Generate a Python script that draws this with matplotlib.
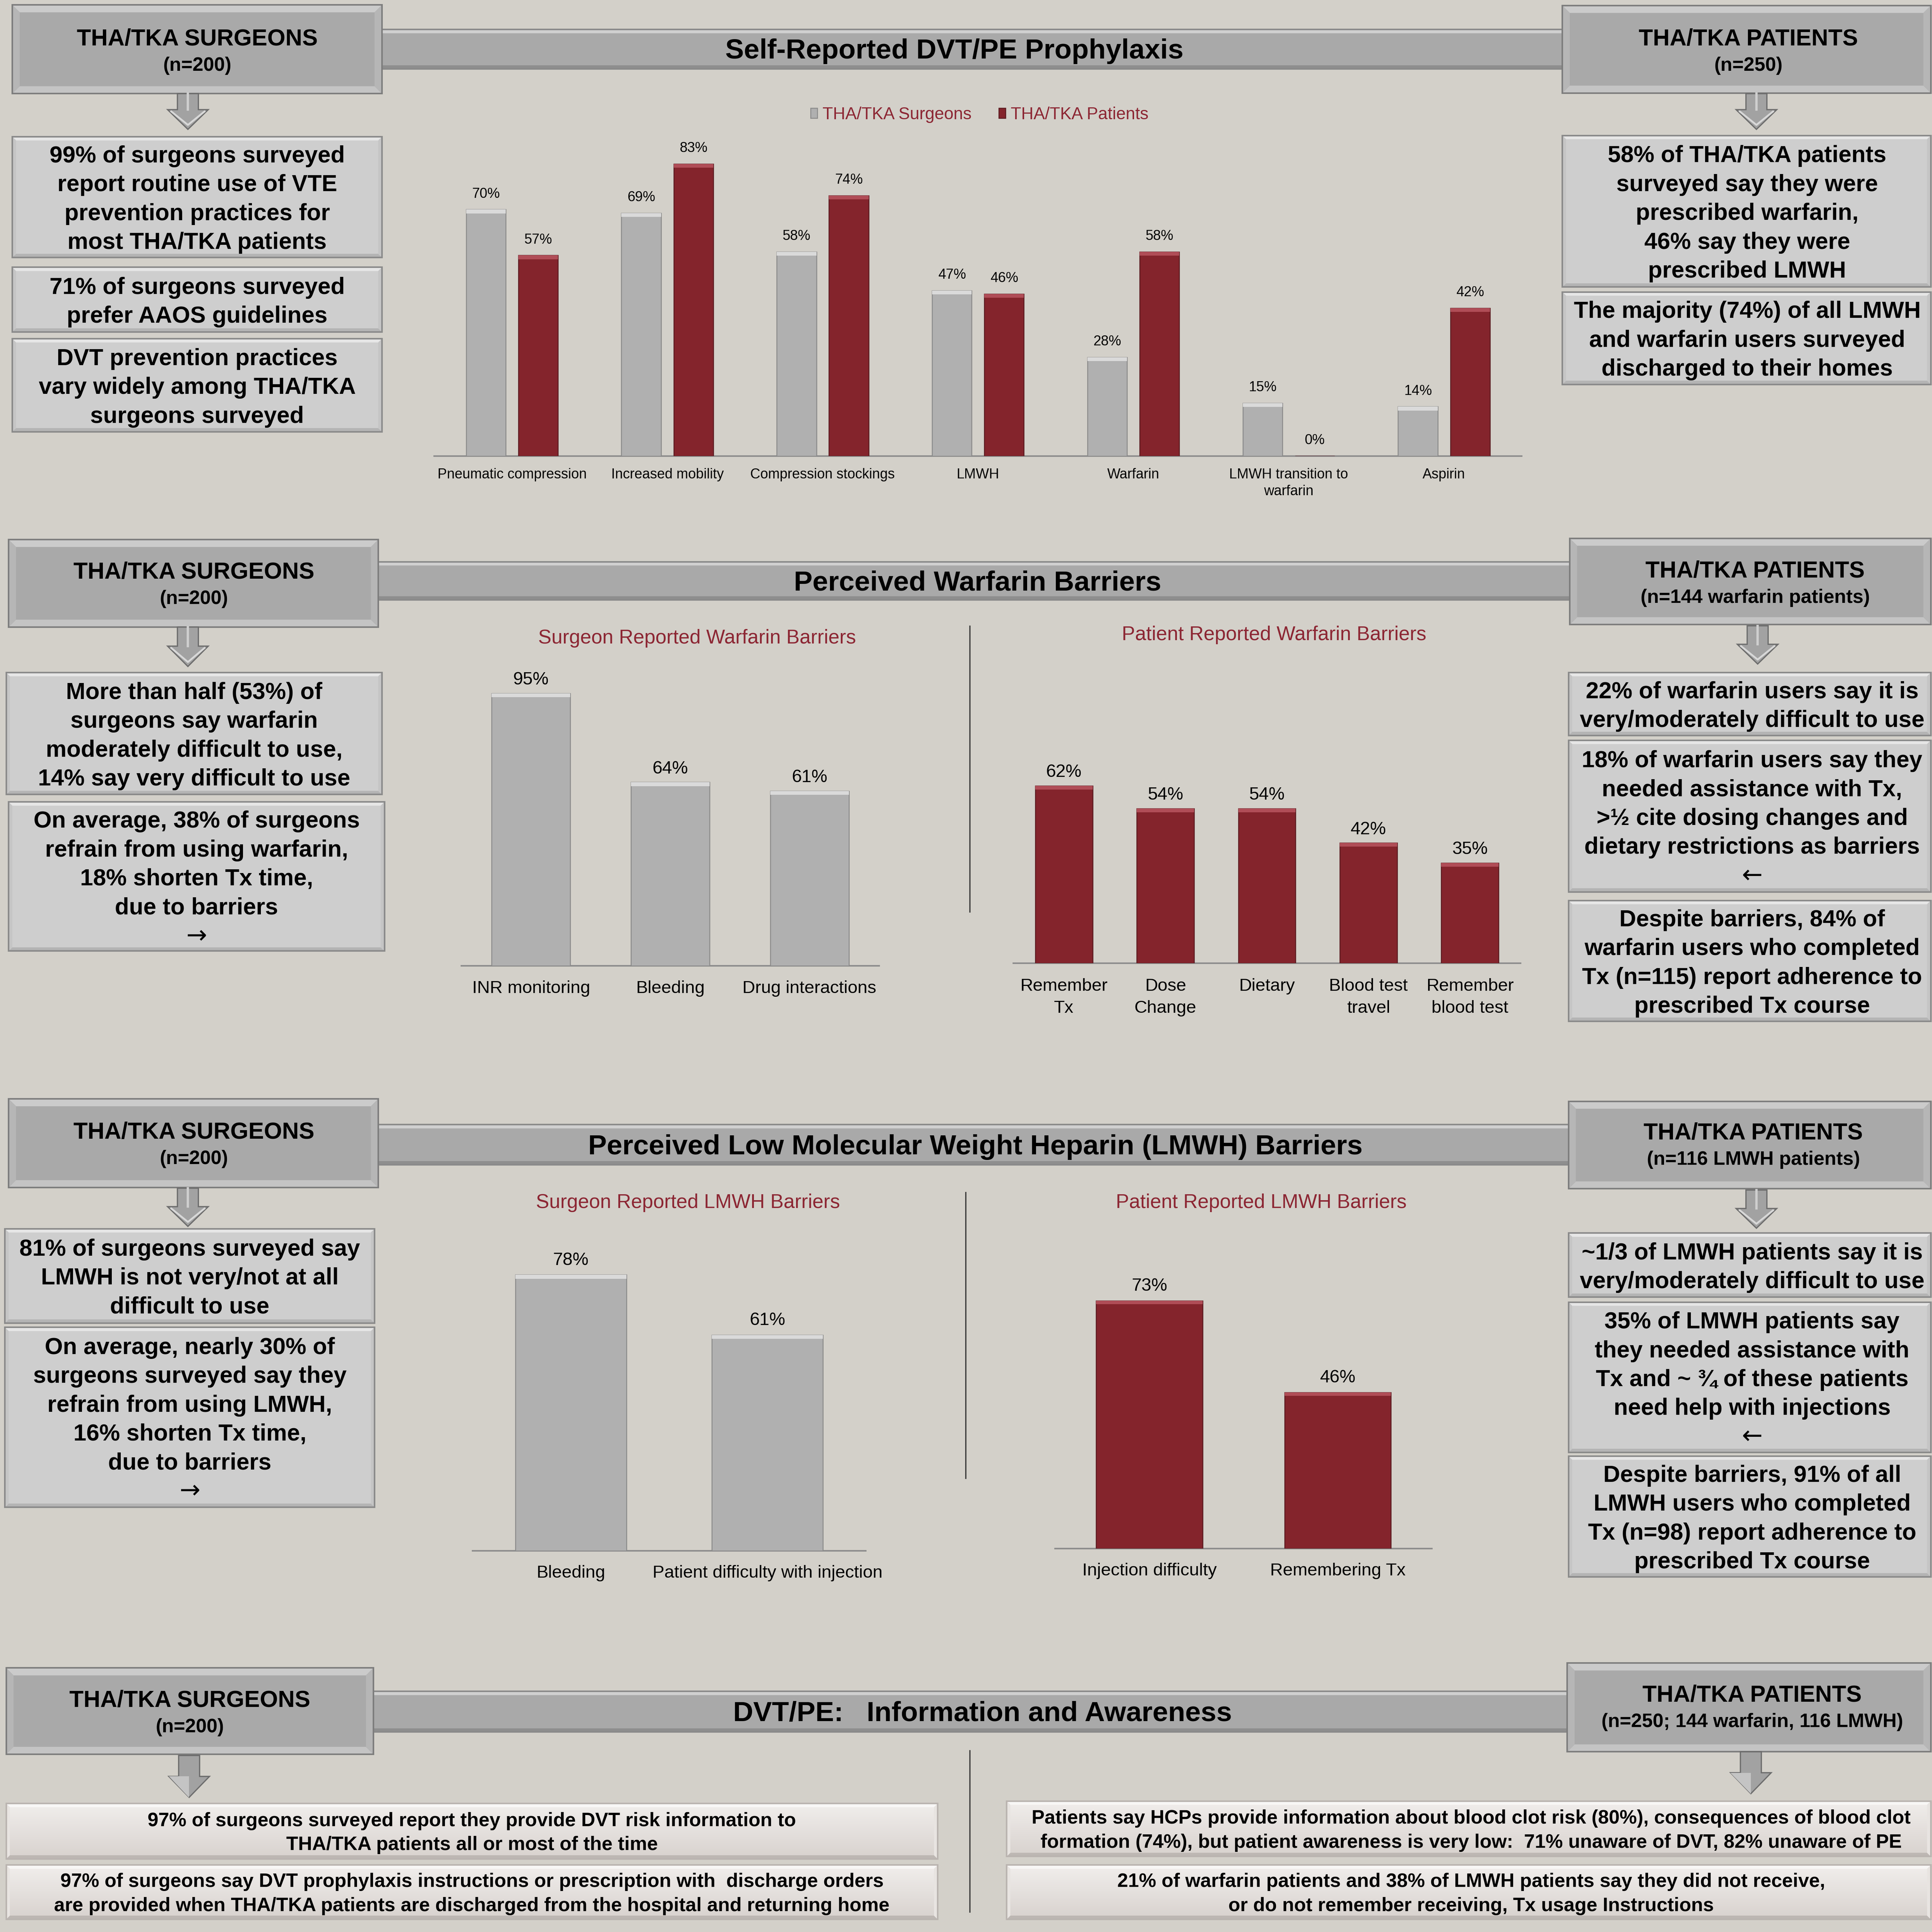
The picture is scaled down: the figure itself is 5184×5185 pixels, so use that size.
import matplotlib.pyplot as plt
from matplotlib.patches import Polygon, Rectangle
from matplotlib.colors import LinearSegmentedColormap
import numpy as np

plt.rcParams['font.family'] = ['Liberation Sans', 'DejaVu Sans']

# ---------------- data ----------------
proph_cats = ['Pneumatic compression', 'Increased mobility', 'Compression stockings',
              'LMWH', 'Warfarin', 'LMWH transition to\nwarfarin', 'Aspirin']
proph_surgeons = [70, 69, 58, 47, 28, 15, 14]
proph_patients = [57, 83, 74, 46, 58, 0, 42]
series_names = ['THA/TKA Surgeons', 'THA/TKA Patients']

warf_surg_cats = ['INR monitoring', 'Bleeding', 'Drug interactions']
warf_surg_vals = [95, 64, 61]
warf_pat_cats = ['Remember\nTx', 'Dose\nChange', 'Dietary', 'Blood test\ntravel', 'Remember\nblood test']
warf_pat_vals = [62, 54, 54, 42, 35]

lmwh_surg_cats = ['Bleeding', 'Patient difficulty with injection']
lmwh_surg_vals = [78, 61]
lmwh_pat_cats = ['Injection difficulty', 'Remembering Tx']
lmwh_pat_vals = [73, 46]

section_titles = ['Self-Reported DVT/PE Prophylaxis', 'Perceived Warfarin Barriers',
                  'Perceived Low Molecular Weight Heparin (LMWH) Barriers',
                  'DVT/PE:   Information and Awareness']
panel_titles = ['Surgeon Reported Warfarin Barriers', 'Patient Reported Warfarin Barriers',
                'Surgeon Reported LMWH Barriers', 'Patient Reported LMWH Barriers']
surgeon_head = ['THA/TKA SURGEONS', '(n=200)']
patient_heads = ['(n=250)', '(n=144 warfarin patients)', '(n=116 LMWH patients)',
                 '(n=250; 144 warfarin, 116 LMWH)']

s1_left = ['99% of surgeons surveyed\nreport routine use of VTE\nprevention practices for\nmost THA/TKA patients',
           '71% of surgeons surveyed\nprefer AAOS guidelines',
           'DVT prevention practices\nvary widely among THA/TKA\nsurgeons surveyed']
s1_right = ['58% of THA/TKA patients\nsurveyed say they were\nprescribed warfarin,\n46% say they were\nprescribed LMWH',
            'The majority (74%) of all LMWH\nand warfarin users surveyed\ndischarged to their homes']
s2_left = ['More than half (53%) of\nsurgeons say warfarin\nmoderately difficult to use,\n14% say very difficult to use',
           'On average, 38% of surgeons\nrefrain from using warfarin,\n18% shorten Tx time,\ndue to barriers\n\u2192']
s2_right = ['22% of warfarin users say it is\nvery/moderately difficult to use',
            '18% of warfarin users say they\nneeded assistance with Tx,\n>\u00bd cite dosing changes and\ndietary restrictions as barriers\n\u2190',
            'Despite barriers, 84% of\nwarfarin users who completed\nTx (n=115) report adherence to\nprescribed Tx course']
s3_left = ['81% of surgeons surveyed say\nLMWH is not very/not at all\ndifficult to use',
           'On average, nearly 30% of\nsurgeons surveyed say they\nrefrain from using LMWH,\n16% shorten Tx time,\ndue to barriers\n\u2192']
s3_right = ['~1/3 of LMWH patients say it is\nvery/moderately difficult to use',
            '35% of LMWH patients say\nthey needed assistance with\nTx and ~ \u00be of these patients\nneed help with injections\n\u2190',
            'Despite barriers, 91% of all\nLMWH users who completed\nTx (n=98) report adherence to\nprescribed Tx course']
s4_left = ['97% of surgeons surveyed report they provide DVT risk information to\nTHA/TKA patients all or most of the time',
           '97% of surgeons say DVT prophylaxis instructions or prescription with  discharge orders\nare provided when THA/TKA patients are discharged from the hospital and returning home']
s4_right = ['Patients say HCPs provide information about blood clot risk (80%), consequences of blood clot\nformation (74%), but patient awareness is very low:  71% unaware of DVT, 82% unaware of PE',
            '21% of warfarin patients and 38% of LMWH patients say they did not receive,\nor do not remember receiving, Tx usage Instructions']

# ---------------- style ----------------
W, H = 5184, 5185
S = W / 1568          # layout below measured on a 1568 px preview
BG = '#d3d0c9'
GRAY = '#b0b0b0'
RED = '#84242c'
TITLE_RED = '#8c2633'
STEP = 23             # line step of the note text, preview px
DY = 2                # small downward nudge for box text

fig = plt.figure(figsize=(W / 300, H / 300), dpi=300, facecolor=BG)
cv = fig.add_axes([0, 0, 1, 1])
cv.set_xlim(0, W)
cv.set_ylim(H, 0)
cv.axis('off')


def bevel_box(x0, y0, x1, y1, face, top, bottom, side, b=4, z=2, edge='#7d7d7d'):
    X0, Y0, X1, Y1, B = x0 * S, y0 * S, x1 * S, y1 * S, b * S
    if face is not None:
        cv.add_patch(Rectangle((X0, Y0), X1 - X0, Y1 - Y0, facecolor=face, edgecolor='none', zorder=z))
    faces = [([(X0, Y0), (X1, Y0), (X1 - B, Y0 + B), (X0 + B, Y0 + B)], top),
             ([(X0, Y1), (X1, Y1), (X1 - B, Y1 - B), (X0 + B, Y1 - B)], bottom),
             ([(X0, Y0), (X0 + B, Y0 + B), (X0 + B, Y1 - B), (X0, Y1)], side),
             ([(X1, Y0), (X1 - B, Y0 + B), (X1 - B, Y1 - B), (X1, Y1)], side)]
    for pts, c in faces:
        cv.add_patch(Polygon(pts, closed=True, facecolor=c, edgecolor='none', zorder=z + 0.05))
    cv.add_patch(Rectangle((X0, Y0), X1 - X0, Y1 - Y0, facecolor='none', edgecolor=edge,
                           lw=1.0, zorder=z + 0.1))


def head_box(x0, y0, x1, y1):
    bevel_box(x0, y0, x1, y1, '#a9a9a9', '#cbcbcb', '#c4c4c4', '#b6b6b6', b=6)


def note_box(x0, y0, x1, y1):
    bevel_box(x0, y0, x1, y1, '#cecece', '#e6e6e6', '#b4b4b4', '#c5c5c5', b=3, edge='#8a8a8a')


def header_bar(x0, y0, x1, y1):
    bevel_box(x0, y0, x1, y1, '#a9a9a9', '#d0d0d0', '#8e8e8e', '#a9a9a9', b=3, z=1, edge='#8a8a8a')


soft_cmap = LinearSegmentedColormap.from_list('soft', ['#f1eeec', '#d8d2ce'])


def soft_box(x0, y0, x1, y1):
    grad = np.linspace(0, 1, 64)[:, None]
    cv.imshow(grad, extent=(x0 * S, x1 * S, y1 * S, y0 * S), cmap=soft_cmap, aspect='auto',
              interpolation='bilinear', zorder=2)
    bevel_box(x0, y0, x1, y1, None, '#f8f7f6', '#bdb7b3', '#e8e4e1', b=3, edge='#bab4b0')


def txt(x, y, s, size, bold=True, color='black', ls=1.4):
    cv.text(x * S, y * S, s, fontsize=size, ha='center', va='center', color=color,
            fontweight='bold' if bold else 'normal', linespacing=ls, zorder=5)


def note_text(x, yc, s, size=15):
    yc = yc + DY
    lines = s.split('\n')
    if lines[-1] in ('\u2192', '\u2190'):
        n = len(lines)
        txt(x, yc - STEP / 2, '\n'.join(lines[:-1]), size)
        cv.text(x * S, (yc + (n - 1) / 2 * STEP) * S, lines[-1], fontsize=16,
                family='DejaVu Sans', ha='center', va='center', zorder=5)
    else:
        txt(x, yc, s, size)


def head_text(x, y, title, sub):
    txt(x, y + 1.5, title, 15)
    txt(x, y + 23, sub, 12.5)


def down_arrow(cx, y0, yh, y1, shaft=17, head=33, block=True):
    cx, y0, yh, y1 = cx * S, y0 * S, yh * S, y1 * S
    sw, hw = shaft * S / 2, head * S / 2
    pts = [(cx - sw, y0), (cx + sw, y0), (cx + sw, yh), (cx + hw, yh), (cx, y1),
           (cx - hw, yh), (cx - sw, yh)]
    cv.add_patch(Polygon(pts, closed=True, facecolor='#a2a2a2', edgecolor='#6c6c6c', lw=0.8, zorder=3))
    if block:
        d = 3 * S
        cv.plot([cx - hw + d, cx, cx + hw - d], [yh + 0.5 * d, y1 - 1.2 * d, yh + 0.5 * d],
                color='#d8d8d8', lw=1.2, zorder=3.1)
        cv.plot([cx, cx], [y0, yh], color='#cfcfcf', lw=1.5, zorder=3.1)
    else:
        cv.add_patch(Polygon([(cx - hw, yh), (cx, yh), (cx, y1)], closed=True,
                             facecolor='#c4c4c4', edgecolor='none', zorder=3.05))


def vline(x, y0, y1):
    cv.plot([x * S, x * S], [y0 * S, y1 * S], color='#3a3a3a', lw=0.8, zorder=2)


def panel(left, right, base, scale, ymax):
    ax = fig.add_axes([left / 1568, 1 - base / 1568, (right - left) / 1568, ymax * scale / 1568])
    ax.set_facecolor('none')
    ax.set_ylim(0, ymax)
    for k in ('top', 'left', 'right'):
        ax.spines[k].set_visible(False)
    ax.spines['bottom'].set_color('#8c8c8c')
    ax.spines['bottom'].set_linewidth(1.0)
    ax.set_yticks([])
    return ax


def draw_bars(ax, x, vals, color, top_col, edge, width, strip):
    bars = ax.bar(x, vals, width, color=color, edgecolor=edge, linewidth=0.6, zorder=3)
    hs = [min(v, strip) for v in vals]
    ax.bar(x, hs, width, bottom=[v - h for v, h in zip(vals, hs)], color=top_col,
           edgecolor='none', zorder=3.5)
    return bars


def value_labels(ax, x, vals, size, off):
    for xi, v in zip(x, vals):
        ax.annotate(f'{v}%', (xi, v), xytext=(0, off), textcoords='offset points',
                    ha='center', va='center', fontsize=size)


def simple_panel(cats, vals, color, top_col, edge, geom, ymax, off, pad):
    ax = panel(*geom, ymax)
    x = np.arange(len(cats))
    draw_bars(ax, x, vals, color, top_col, edge, 0.565, ymax * 0.012)
    value_labels(ax, x, vals, 11.5, off)
    ax.set_xlim(-0.5, len(cats) - 0.5)
    ax.set_xticks(x)
    ax.set_xticklabels(cats, fontsize=11.4, linespacing=1.45)
    ax.tick_params(axis='x', length=0, pad=pad)
    return ax


# ---------------- section header bars ----------------
header_bar(300, 24, 1275, 56)
header_bar(300, 456, 1280, 487)
header_bar(300, 913, 1280, 945.5)
header_bar(300, 1373, 1280, 1406)
txt(774.5, 41.5, section_titles[0], 18)
txt(793.5, 473.5, section_titles[1], 18)
txt(791.5, 931, section_titles[2], 18)
txt(797.5, 1391, section_titles[3], 18)

# ---------------- section 1 ----------------
head_box(10, 4, 310, 76)
head_text(160, 30.5, *surgeon_head)
down_arrow(152.5, 76, 89, 105)
for (y0, y1), s in zip([(111, 209), (217, 269.5), (275, 350.5)], s1_left):
    note_box(10, y0, 310, y1)
    note_text(160, (y0 + y1) / 2, s)

head_box(1268, 4.5, 1567, 75.5)
head_text(1419, 30.5, 'THA/TKA PATIENTS', patient_heads[0])
down_arrow(1425.5, 76, 89, 105)
for (y0, y1), s in zip([(110, 233), (237, 312)], s1_right):
    note_box(1268, y0, 1567, y1)
    note_text(1418, (y0 + y1) / 2, s)

ax1 = panel(352.5, 1235, 370, 2.856, 95)
xg = np.arange(len(proph_cats))
b_s = draw_bars(ax1, xg - 0.168, proph_surgeons, GRAY, '#dadada', '#8a8a8a', 0.255, 1.1)
b_p = draw_bars(ax1, xg + 0.168, proph_patients, RED, '#b04d57', '#5a1a20', 0.255, 1.1)
value_labels(ax1, xg - 0.168, proph_surgeons, 9, 10)
value_labels(ax1, xg + 0.168, proph_patients, 9, 10)
ax1.set_xlim(-0.5, len(proph_cats) - 0.5)
ax1.set_xticks(xg)
ax1.set_xticklabels(proph_cats, fontsize=9, linespacing=1.35)
ax1.tick_params(axis='x', length=0, pad=7.7)
ax1.legend([b_s, b_p], series_names, loc='center', bbox_to_anchor=(795 / 1568, 1 - 93 / 1568),
           bbox_transform=fig.transFigure, ncol=2, frameon=False, fontsize=11,
           labelcolor=TITLE_RED, handlelength=0.4, handleheight=0.55, handletextpad=0.3,
           columnspacing=1.6)

# ---------------- section 2 ----------------
head_box(7, 438, 307, 509)
head_text(157.5, 463.2, *surgeon_head)
down_arrow(152.5, 509, 524.5, 541)
for (x0, x1, y0, y1), s in zip([(5, 310, 546, 645), (7, 312, 651, 772)], s2_left):
    note_box(x0, y0, x1, y1)
    note_text((x0 + x1) / 2, (y0 + y1) / 2, s)

head_box(1274, 437, 1567, 507)
head_text(1424.4, 462.4, 'THA/TKA PATIENTS', patient_heads[1])
down_arrow(1426.5, 508, 523, 539)
for (y0, y1), s in zip([(546, 597), (601, 724), (731, 829)], s2_right):
    note_box(1273, y0, 1567, y1)
    note_text(1422, (y0 + y1) / 2, s)

txt(565.6, 518, panel_titles[0], 12.8, bold=False, color=TITLE_RED)
txt(1034, 515.5, panel_titles[1], 12.8, bold=False, color=TITLE_RED)
vline(787, 508, 740)
simple_panel(warf_surg_cats, warf_surg_vals, GRAY, '#dadada', '#8a8a8a',
             (374.5, 713.5, 783.7, 2.325), 110, 8.7, 9.5)
simple_panel(warf_pat_cats, warf_pat_vals, RED, '#b04d57', '#5a1a20',
             (822.3, 1234.2, 781.8, 2.325), 110, 8.7, 9.5)

# ---------------- section 3 ----------------
head_box(7, 892, 307, 964)
head_text(157.5, 917.8, *surgeon_head)
down_arrow(152.5, 964.5, 979.5, 995.5)
for (y0, y1), s in zip([(997.5, 1074), (1077.5, 1223.5)], s3_left):
    note_box(4, y0, 304, y1)
    note_text(154, (y0 + y1) / 2, s)

head_box(1273, 894, 1567, 965)
head_text(1423, 918.5, 'THA/TKA PATIENTS', patient_heads[2])
down_arrow(1425.5, 966, 981, 997)
for (y0, y1), s in zip([(1001, 1053), (1057, 1179), (1182, 1280)], s3_right):
    note_box(1273, y0, 1567, y1)
    note_text(1422, (y0 + y1) / 2, s)

txt(558.4, 976.5, panel_titles[2], 12.8, bold=False, color=TITLE_RED)
txt(1023.6, 976.5, panel_titles[3], 12.8, bold=False, color=TITLE_RED)
vline(783.7, 968, 1200)
simple_panel(lmwh_surg_cats, lmwh_surg_vals, GRAY, '#dadada', '#8a8a8a',
             (383.5, 702.7, 1258.5, 2.87), 90, 9.4, 9.3)
simple_panel(lmwh_pat_cats, lmwh_pat_vals, RED, '#b04d57', '#5a1a20',
             (856.4, 1162.2, 1256.7, 2.755), 90, 9.4, 9.3)

# ---------------- section 4 ----------------
head_box(5, 1354, 303, 1424)
head_text(154, 1379, *surgeon_head)
down_arrow(153.5, 1425, 1442, 1459, block=False)

head_box(1272, 1350, 1567, 1422)
head_text(1422, 1375, 'THA/TKA PATIENTS', patient_heads[3])
down_arrow(1421, 1422, 1439, 1456, block=False)

vline(787, 1421, 1552)
for (x0, x1, y0, y1), s in zip([(5, 761, 1464, 1509), (5, 761, 1514, 1558)], s4_left):
    soft_box(x0, y0, x1, y1)
    txt(383, (y0 + y1) / 2 + 1.5, s, 12.5, ls=1.42)
for (x0, x1, y0, y1), s in zip([(817, 1567, 1462, 1507), (817, 1567, 1514, 1558)], s4_right):
    soft_box(x0, y0, x1, y1)
    txt(1194, (y0 + y1) / 2 + 1.5, s, 12.5, ls=1.42)

cv.set_xlim(0, W)
cv.set_ylim(H, 0)

fig.savefig('out.png', dpi=300, facecolor=BG)
